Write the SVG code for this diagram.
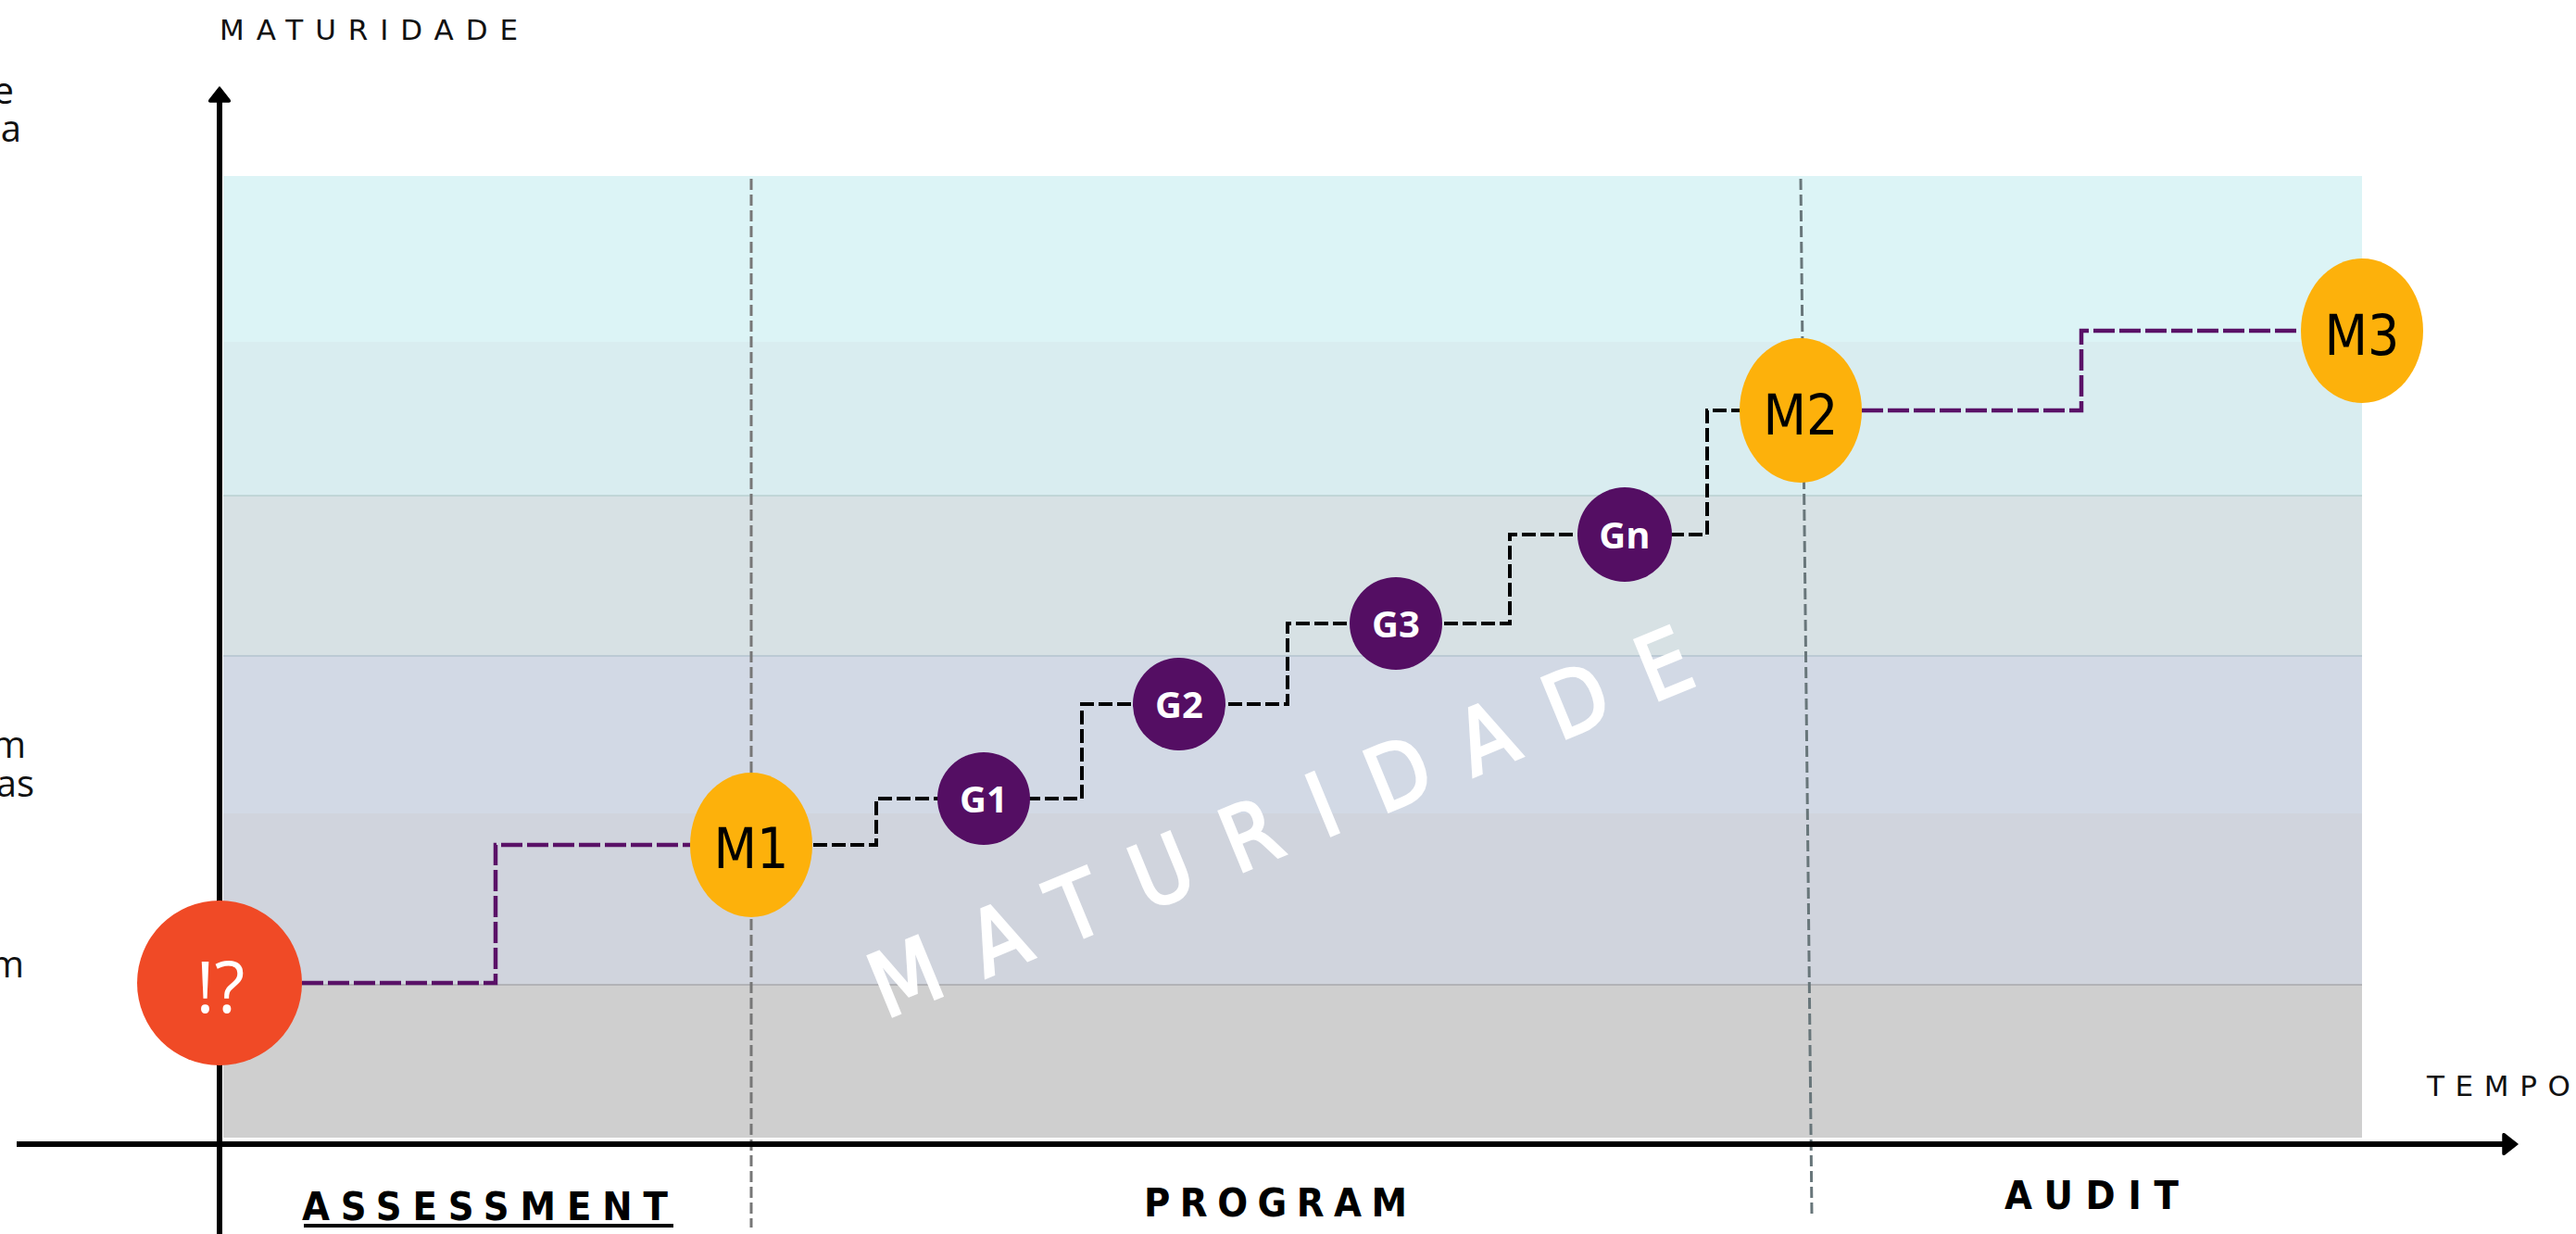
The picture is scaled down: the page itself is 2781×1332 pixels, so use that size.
<svg xmlns="http://www.w3.org/2000/svg" width="2781" height="1332" viewBox="0 0 2781 1332">
<style>
.side{font-family:"Open Sans","Noto Sans",sans-serif;font-size:40px;fill:#111;text-anchor:end}
.axis-label{font-family:"DejaVu Sans",sans-serif;font-size:31px;fill:#111}
.phase{font-family:"DejaVu Sans Condensed","DejaVu Sans",sans-serif;font-weight:bold;font-size:43px;fill:#000}
.mlabel{font-family:"DejaVu Sans Condensed","DejaVu Sans",sans-serif;font-size:60px;fill:#000;text-anchor:middle}
.glabel{font-family:"Open Sans","Noto Sans",sans-serif;font-weight:bold;font-size:40px;fill:#fff;text-anchor:middle}
.mnode{fill:#FDB10B}
.gnode{fill:#540E63}
.purple{fill:none;stroke:#5A1167;stroke-width:4.5;stroke-dasharray:23 5}
.black{fill:none;stroke:#000;stroke-width:4;stroke-dasharray:15 5}
.grid{fill:none;stroke-width:3;stroke-dasharray:12 5}
</style>
<defs>
<marker id="arrowUp" viewBox="0 0 24 18" refX="12" refY="17" markerWidth="24" markerHeight="18" markerUnits="userSpaceOnUse" orient="0">
<path d="M12,1 L23,15 Q24,17 22,17 L2,17 Q0,17 1,15 Z" fill="#000" stroke="#000" stroke-width="1.5" stroke-linejoin="round"/>
</marker>
<marker id="arrowRight" viewBox="0 0 18 24" refX="1" refY="12" markerWidth="18" markerHeight="24" markerUnits="userSpaceOnUse" orient="0">
<path d="M17,12 L3,23 Q1,24 1,22 L1,2 Q1,0 3,1 Z" fill="#000" stroke="#000" stroke-width="1.5" stroke-linejoin="round"/>
</marker>
</defs>
<rect width="2781" height="1332" fill="#fff"/>
<g id="bands">
<rect x="241" y="190" width="2309" height="179" fill="#DCF4F6"/>
<rect x="241" y="369" width="2309" height="166" fill="#D9EDF0"/>
<rect x="241" y="535" width="2309" height="173" fill="#D7E1E4"/>
<rect x="241" y="708" width="2309" height="170" fill="#D2D9E5"/>
<rect x="241" y="878" width="2309" height="185" fill="#D0D4DD"/>
<rect x="241" y="1063" width="2309" height="165" fill="#CFCFCF"/>
<line x1="241" y1="535" x2="2550" y2="535" stroke="#B9CFD2" stroke-width="1.5"/>
<line x1="241" y1="708" x2="2550" y2="708" stroke="#B3C3CF" stroke-width="1.5"/>
<line x1="241" y1="1063" x2="2550" y2="1063" stroke="#A9A9AC" stroke-width="1.5"/>
</g>
<text id="watermark" x="956" y="1100" transform="rotate(-22.4 956 1100)" font-family="DejaVu Sans Condensed, DejaVu Sans, sans-serif" font-size="96" fill="#fff" stroke="#fff" stroke-width="3" textLength="950" lengthAdjust="spacing">MATURIDADE</text>
<g id="phase-dividers">
<line class="grid" x1="811" y1="193" x2="811" y2="1325" stroke="#777"/>
<line class="grid" x1="1944" y1="193" x2="1956" y2="1312" stroke="#68767A"/>
</g>
<g id="axes">
<line x1="237" y1="1332" x2="237" y2="110" stroke="#000" stroke-width="6" marker-end="url(#arrowUp)"/>
<line x1="18" y1="1235" x2="2702" y2="1235" stroke="#000" stroke-width="6" marker-end="url(#arrowRight)"/>
</g>
<g id="connectors">
<path class="purple" d="M326,1061 H535 V912 H745"/>
<path class="black" d="M878,912 H946 V862 H1168 V760 H1390 V673 H1630 V577 H1843 V443 H1880"/>
<path class="purple" d="M2010,443 H2247 V357 H2484"/>
</g>
<g id="node-start">
<circle cx="237" cy="1061" r="89" fill="#F04A26"/>
<text x="238" y="1093" font-family="Open Sans, Noto Sans, sans-serif" font-size="76" fill="#fff" text-anchor="middle">!?</text>
</g>
<g id="node-m1"><ellipse class="mnode" cx="811" cy="912" rx="66" ry="78"/><text class="mlabel" x="811" y="937">M1</text></g>
<g id="node-g1"><circle class="gnode" cx="1062" cy="862" r="50"/><text class="glabel" x="1062" y="877">G1</text></g>
<g id="node-g2"><circle class="gnode" cx="1273" cy="760" r="50"/><text class="glabel" x="1273" y="775">G2</text></g>
<g id="node-g3"><circle class="gnode" cx="1507" cy="673" r="50"/><text class="glabel" x="1507" y="688">G3</text></g>
<g id="node-gn"><circle class="gnode" cx="1754" cy="577" r="51"/><text class="glabel" x="1754" y="592">Gn</text></g>
<g id="node-m2"><ellipse class="mnode" cx="1944" cy="443" rx="66" ry="78"/><text class="mlabel" x="1944" y="469">M2</text></g>
<g id="node-m3"><ellipse class="mnode" cx="2550" cy="357" rx="66" ry="78"/><text class="mlabel" x="2550" y="383">M3</text></g>
<g id="labels">
<text class="axis-label" x="237" y="43" textLength="322" lengthAdjust="spacing">MATURIDADE</text>
<text class="axis-label" x="2620" y="1183" textLength="155" lengthAdjust="spacing">TEMPO</text>
<text class="phase" x="326" y="1317" textLength="395" lengthAdjust="spacing">ASSESSMENT</text>
<rect x="328" y="1321" width="399" height="4" fill="#000"/>
<text class="phase" x="1235" y="1313" textLength="284" lengthAdjust="spacing">PROGRAM</text>
<text class="phase" x="2164" y="1305" textLength="188" lengthAdjust="spacing">AUDIT</text>
</g>
<g id="side-texts">
<text class="side" x="15" y="112">e</text>
<text class="side" x="23" y="153">a</text>
<text class="side" x="28" y="818">m</text>
<text class="side" x="37" y="860">as</text>
<text class="side" x="26" y="1055">m</text>
</g>
</svg>
